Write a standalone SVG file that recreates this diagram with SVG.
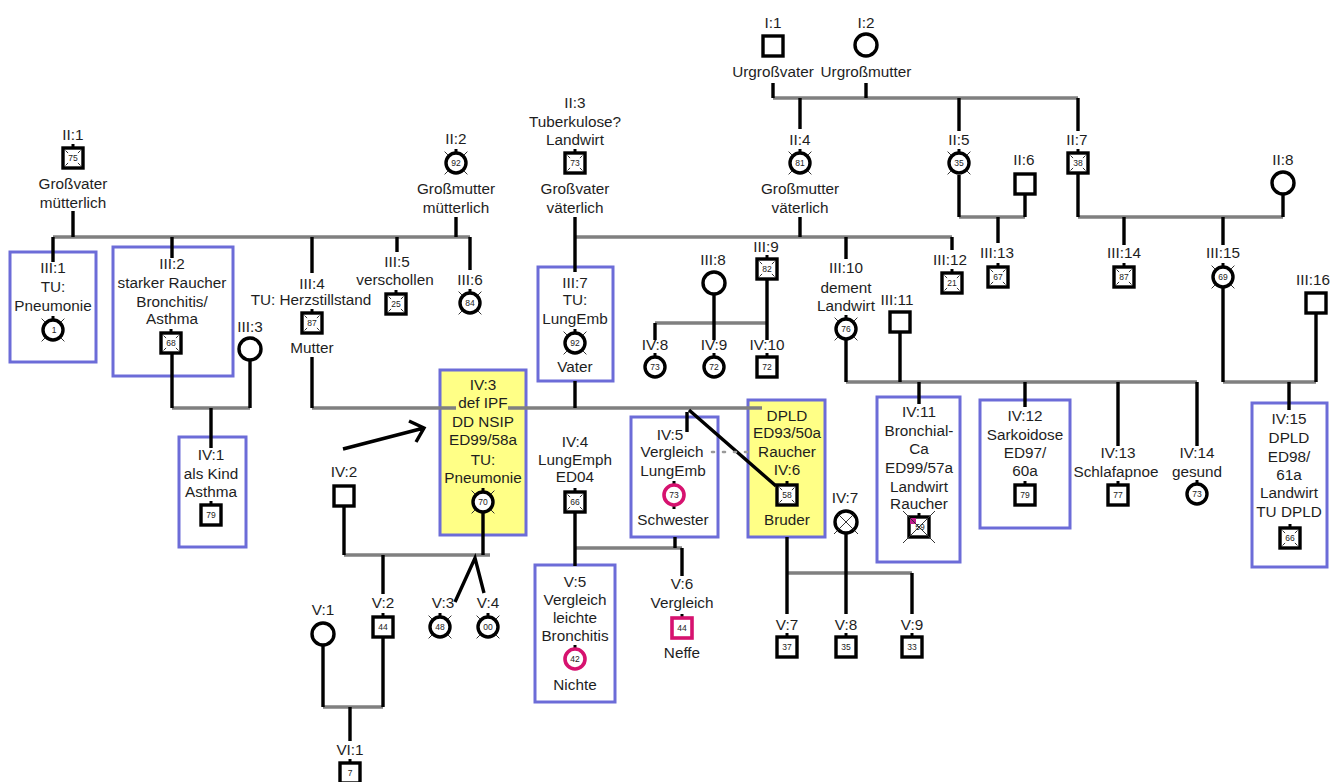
<svg xmlns="http://www.w3.org/2000/svg" width="1332" height="782" viewBox="0 0 1332 782">
<style>
text{font-family:"Liberation Sans",Arial,sans-serif;font-size:15.3px;fill:#1e1e1e;text-anchor:middle}
text.n{font-size:8.5px;fill:#222}
.sym{fill:#fff;stroke:#000;stroke-width:3.4}
.pk{fill:#fff;stroke:#d6126f;stroke-width:3.6}
.tk{stroke:#333;stroke-width:1;fill:none}
.stub{stroke:#000;stroke-width:3;fill:none}
.box{fill:#fff;stroke:#6c6cd8;stroke-width:3}
.ybox{fill:#ffff86;stroke:#6c6cd8;stroke-width:3}
.v{stroke:#000;stroke-width:3.4;fill:none}
.h{stroke:#808080;stroke-width:3.4;fill:none}
.dot{stroke:#9a9a9a;stroke-width:2.6;stroke-dasharray:2 9;stroke-linecap:round;fill:none}
</style>
<defs>
<!-- plain male / female -->
<g id="sq"><rect x="-10" y="-10" width="20" height="20" class="sym"/></g>
<g id="ci"><circle r="11" class="sym"/></g>
<!-- with age, living -->
<g id="sqn"><path class="stub" d="M0 -14V-10"/><rect x="-10" y="-10" width="20" height="20" class="sym"/></g>
<g id="cin"><path class="stub" d="M0 -14V-10"/><circle r="10" class="sym"/></g>
<!-- with age, deceased marks -->
<g id="sqd"><path class="stub" d="M0 -14V-10"/><rect x="-10" y="-10" width="20" height="20" class="sym"/><path class="tk" d="M-7.5 -7.5l2.6 2.6M7.5 -7.5l-2.6 2.6M-7.5 7.5l2.6 -2.6M7.5 7.5l-2.6 -2.6"/></g>
<g id="cid"><path class="stub" d="M0 -14V-10"/><circle r="10" class="sym"/><path class="tk" d="M-8 -8l-3.4 -3.4M8 -8l3.4 -3.4M-8 8l-3.4 3.4M8 8l3.4 3.4"/></g>
</defs>

<!-- generation I -->
<g id="I1"><text x="773" y="28">I:1</text><use href="#sq" x="773" y="46"/><text x="773" y="77">Urgroßvater</text></g>
<g id="I2"><text x="866" y="28">I:2</text><use href="#ci" x="866" y="45"/><text x="866" y="77">Urgroßmutter</text></g>

<!-- generation II -->
<g id="II1"><text x="73" y="140">II:1</text><use href="#sqd" x="73" y="158"/><text class="n" x="73" y="161">75</text><text x="73" y="189">Großvater</text><text x="73" y="208">mütterlich</text></g>
<g id="II2"><text x="456" y="144">II:2</text><use href="#cid" x="456" y="163"/><text class="n" x="456" y="166">92</text><text x="456" y="194">Großmutter</text><text x="456" y="213">mütterlich</text></g>
<g id="II3"><text x="575" y="108">II:3</text><text x="575" y="127">Tuberkulose?</text><text x="575" y="145">Landwirt</text><use href="#sqd" x="575" y="163"/><text class="n" x="575" y="166">73</text><text x="575" y="194">Großvater</text><text x="575" y="213">väterlich</text></g>
<g id="II4"><text x="800" y="145">II:4</text><use href="#cid" x="800" y="163"/><text class="n" x="800" y="166">81</text><text x="800" y="194">Großmutter</text><text x="800" y="213">väterlich</text></g>
<g id="II5"><text x="959" y="145">II:5</text><use href="#cid" x="959" y="163"/><text class="n" x="959" y="166">35</text></g>
<g id="II6"><text x="1024" y="165">II:6</text><use href="#sq" x="1025" y="184"/></g>
<g id="II7"><text x="1077" y="145">II:7</text><use href="#sqd" x="1078" y="163"/><text class="n" x="1078" y="166">38</text></g>
<g id="II8"><text x="1283" y="165">II:8</text><use href="#ci" x="1283" y="183"/></g>

<!-- generation III -->
<g id="III1"><rect class="box" x="10" y="252" width="86" height="110"/><text x="53" y="273">III:1</text><text x="53" y="292">TU:</text><text x="53" y="311">Pneumonie</text><use href="#cid" x="53" y="330"/><text class="n" x="54" y="333">1</text></g>
<g id="III2"><rect class="box" x="113" y="247" width="120" height="129"/><text x="172" y="269">III:2</text><text x="172" y="288">starker Raucher</text><text x="172" y="307">Bronchitis/</text><text x="172" y="324">Asthma</text><use href="#sqd" x="171" y="343"/><text class="n" x="171" y="346">68</text></g>
<g id="III3"><text x="250" y="332">III:3</text><use href="#ci" x="250" y="349"/></g>
<g id="III4"><text x="312" y="289">III:4</text><text x="311" y="305">TU: Herzstillstand</text><use href="#sqd" x="312" y="323"/><text class="n" x="312" y="326">87</text><text x="312" y="353">Mutter</text></g>
<g id="III5"><text x="397" y="267">III:5</text><text x="395" y="285">verschollen</text><use href="#sqd" x="396" y="304"/><text class="n" x="396" y="307">25</text></g>
<g id="III6"><text x="470" y="285">III:6</text><use href="#cid" x="470" y="303"/><text class="n" x="470" y="306">84</text></g>
<g id="III7"><rect class="box" x="538" y="267" width="75" height="114"/><text x="575" y="288">III:7</text><text x="575" y="305">TU:</text><text x="575" y="324">LungEmb</text><use href="#cid" x="575" y="343"/><text class="n" x="575" y="346">92</text><text x="575" y="372">Vater</text></g>
<g id="III8"><text x="713" y="265">III:8</text><use href="#ci" x="714" y="283"/></g>
<g id="III9"><text x="766" y="252">III:9</text><use href="#sqd" x="767" y="269"/><text class="n" x="767" y="272">82</text></g>
<g id="III10"><text x="846" y="273">III:10</text><text x="846" y="293">dement</text><text x="846" y="311">Landwirt</text><use href="#cid" x="846" y="329"/><text class="n" x="846" y="332">76</text></g>
<g id="III11"><text x="897" y="305">III:11</text><use href="#sq" x="900" y="322"/></g>
<g id="III12"><text x="950" y="265">III:12</text><use href="#sqd" x="952" y="283"/><text class="n" x="952" y="286">21</text></g>
<g id="III13"><text x="997" y="258">III:13</text><use href="#sqd" x="998" y="277"/><text class="n" x="998" y="280">67</text></g>
<g id="III14"><text x="1124" y="258">III:14</text><use href="#sqd" x="1124" y="277"/><text class="n" x="1124" y="280">87</text></g>
<g id="III15"><text x="1223" y="258">III:15</text><use href="#cid" x="1223" y="277"/><text class="n" x="1223" y="280">69</text></g>
<g id="III16"><text x="1313" y="285">III:16</text><use href="#sq" x="1316" y="303"/></g>

<!-- generation IV -->
<g id="IV1"><rect class="box" x="179" y="437" width="67" height="110"/><text x="211" y="460">IV:1</text><text x="211" y="479">als Kind</text><text x="211" y="497">Asthma</text><use href="#sqn" x="211" y="515"/><text class="n" x="211" y="518">79</text></g>
<g id="IV2"><text x="344" y="477">IV:2</text><use href="#sq" x="344" y="496"/></g>
<g id="IV3"><rect class="ybox" x="440" y="370" width="86" height="165"/><text x="483" y="390">IV:3</text><text x="483" y="408">def IPF</text><text x="483" y="427">DD NSIP</text><text x="483" y="445">ED99/58a</text><text x="483" y="465">TU:</text><text x="483" y="483">Pneumonie</text><use href="#cid" x="483" y="502"/><text class="n" x="483" y="505">70</text></g>
<g id="IV4"><text x="575" y="447">IV:4</text><text x="575" y="465">LungEmph</text><text x="575" y="482">ED04</text><use href="#sqd" x="575" y="502"/><text class="n" x="575" y="505">66</text></g>
<g id="IV5"><rect class="box" x="631" y="417" width="87" height="120"/><text x="670" y="440">IV:5</text><text x="672" y="457">Vergleich</text><text x="673" y="476">LungEmb</text><path class="stub" d="M674 481V486M674 504V509"/><circle class="pk" cx="674" cy="495" r="10"/><text class="n" x="674" y="498">73</text><text x="673" y="525">Schwester</text></g>
<g id="IV6"><rect class="ybox" x="748" y="400" width="77" height="137"/><text x="787" y="421">DPLD</text><text x="787" y="438">ED93/50a</text><text x="787" y="457">Raucher</text><text x="787" y="475">IV:6</text><use href="#sqd" x="787" y="495"/><text class="n" x="787" y="498">58</text><text x="787" y="525">Bruder</text></g>
<g id="IV7"><text x="845" y="503">IV:7</text><circle class="sym" cx="846" cy="522" r="11"/><path class="tk" stroke-width="1.4" d="M838.2 514.2L853.8 529.8M853.8 514.2L838.2 529.8"/><path class="tk" d="M837 531l-3 3M855 531l3 3"/></g>
<g id="IV8"><text x="655" y="350">IV:8</text><use href="#cin" x="655" y="367"/><text class="n" x="655" y="370">73</text></g>
<g id="IV9"><text x="714" y="350">IV:9</text><use href="#cin" x="714" y="367"/><text class="n" x="714" y="370">72</text></g>
<g id="IV10"><text x="767" y="350">IV:10</text><use href="#sqn" x="767" y="367"/><text class="n" x="767" y="370">72</text></g>
<g id="IV11"><rect class="box" x="877" y="397" width="83" height="165"/><text x="919" y="417">IV:11</text><text x="919" y="436">Bronchial-</text><text x="919" y="454">Ca</text><text x="919" y="473">ED99/57a</text><text x="919" y="492">Landwirt</text><text x="919" y="509">Raucher</text><use href="#sqn" x="919" y="527"/><rect x="910" y="518" width="6" height="6" fill="#c01a8c"/><text class="n" x="920" y="530">59</text><path class="tk" stroke-width="1.3" d="M903 511L935 543M935 511L903 543"/></g>
<g id="IV12"><rect class="box" x="980" y="400" width="90" height="128"/><text x="1025" y="421">IV:12</text><text x="1025" y="440">Sarkoidose</text><text x="1025" y="458">ED97/</text><text x="1025" y="476">60a</text><use href="#sqn" x="1025" y="495"/><text class="n" x="1025" y="498">79</text></g>
<g id="IV13"><text x="1118" y="458">IV:13</text><text x="1116" y="477">Schlafapnoe</text><use href="#sqn" x="1118" y="495"/><text class="n" x="1118" y="498">77</text></g>
<g id="IV14"><text x="1197" y="458">IV:14</text><text x="1197" y="477">gesund</text><use href="#cin" x="1197" y="494"/><text class="n" x="1197" y="497">73</text></g>
<g id="IV15"><rect class="box" x="1252" y="403" width="75" height="164"/><text x="1289" y="424">IV:15</text><text x="1289" y="443">DPLD</text><text x="1289" y="462">ED98/</text><text x="1289" y="480">61a</text><text x="1289" y="498">Landwirt</text><text x="1289" y="517">TU DPLD</text><use href="#sqd" x="1290" y="538"/><text class="n" x="1290" y="541">66</text></g>

<!-- generation V -->
<g id="V1"><text x="323" y="615">V:1</text><use href="#ci" x="323" y="634"/></g>
<g id="V2"><text x="383" y="608">V:2</text><use href="#sqn" x="383" y="627"/><text class="n" x="383" y="630">44</text></g>
<g id="V3"><text x="443" y="608">V:3</text><use href="#cid" x="440" y="627"/><text class="n" x="440" y="630">48</text></g>
<g id="V4"><text x="488" y="608">V:4</text><use href="#cid" x="488" y="627"/><text class="n" x="488" y="630">00</text></g>
<g id="V5"><rect class="box" x="535" y="565" width="80" height="137"/><text x="575" y="587">V:5</text><text x="575" y="605">Vergleich</text><text x="575" y="623">leichte</text><text x="575" y="641">Bronchitis</text><path class="stub" d="M575 645V650"/><circle class="pk" cx="575" cy="659" r="10"/><text class="n" x="575" y="662">42</text><text x="575" y="690">Nichte</text></g>
<g id="V6"><text x="682" y="589">V:6</text><text x="682" y="608">Vergleich</text><path class="stub" d="M682 614V618"/><rect class="pk" x="672" y="618" width="20" height="20"/><text class="n" x="682" y="631">44</text><text x="682" y="658">Neffe</text></g>
<g id="V7"><text x="787" y="630">V:7</text><use href="#sqn" x="787" y="647"/><text class="n" x="787" y="650">37</text></g>
<g id="V8"><text x="846" y="630">V:8</text><use href="#sqn" x="846" y="647"/><text class="n" x="846" y="650">35</text></g>
<g id="V9"><text x="912" y="630">V:9</text><use href="#sqn" x="912" y="647"/><text class="n" x="912" y="650">33</text></g>

<!-- generation VI -->
<g id="VI1"><text x="350" y="755">VI:1</text><use href="#sqn" x="350" y="773"/><text class="n" x="350" y="776">7</text></g>

<!-- lines of descent and partnership -->
<g id="connectors">
<path class="h" d="M773 98H1078M53 237H470M575 237H952M959 217H1025M1078 217H1283M655 323H767M172 408H250M312 408H456M508 408H762M846 382H1197M1223 382H1316M344 555H490M575 548H682M787 573H912M323 707H383"/>
<path class="v" d="M773 83V98M866 83V98M800 98V129M959 98V131M1078 98V131
M73 211V237M456 217V237M575 217V272M800 217V237
M53 237V262M172 237V258M312 237V273M397 237V252M470 237V270M846 237V259M952 237V250
M959 175V217M1025 194V217M1078 173V217M1283 194V217
M998 217V243M1124 217V245M1223 217V245M1223 288V382M1316 313V382M1289 382V410
M172 353V408M250 360V408M211 408V448M312 357V408M575 381V408
M714 294V340M767 279V340M655 323V340
M846 340V382M900 332V382M919 382V404M1025 382V407M1118 382V446M1197 382V446
M483 513V555M344 506V555M383 555V594
M575 512V566M675 537V548M682 548V576
M787 537V614M846 534V614M912 573V614
M323 646V707M383 637V707M350 707V741"/>
<path class="v" stroke-width="3" d="M455 602L475 558L484 593"/>
<path class="v" stroke-width="2.6" d="M689 410L776 486M687 412V432"/>
<path class="dot" d="M712 452H748"/>
<path class="v" stroke-width="3" d="M343 449L424 428M409 421L424 428L416 442"/>
</g>
</svg>
